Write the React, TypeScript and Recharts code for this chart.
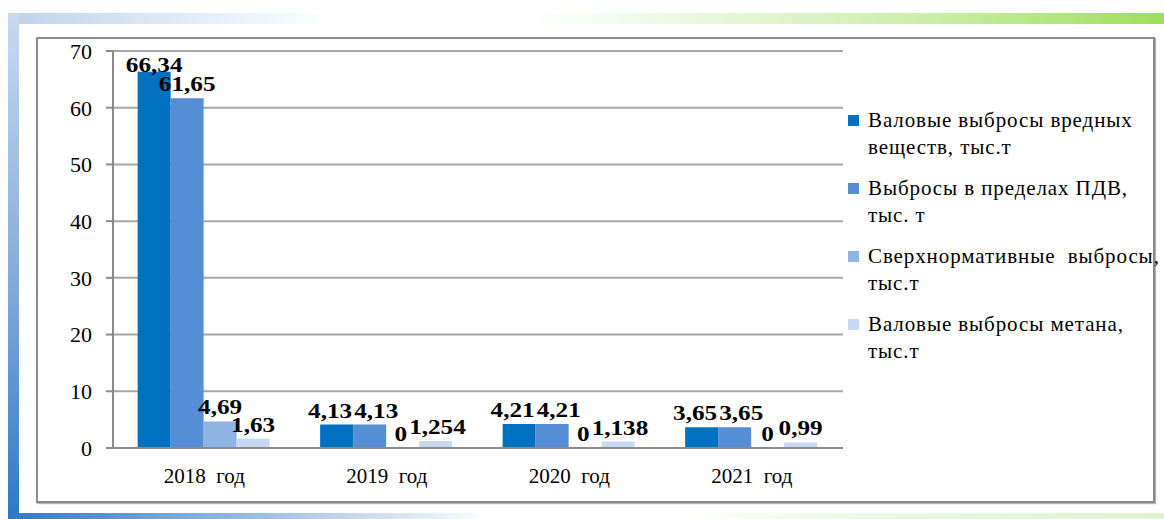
import React from "react"
import { BarChart, Bar, XAxis, YAxis, CartesianGrid, LabelList } from "recharts"

// data
const categories = ["2018\u00a0\u00a0год", "2019\u00a0\u00a0год", "2020\u00a0\u00a0год", "2021\u00a0\u00a0год"]
const grossEmissions = [66.34, 4.13, 4.21, 3.65]
const withinPdv = [61.65, 4.13, 4.21, 3.65]
const excessEmissions = [4.69, 0, 0, 0]
const methaneEmissions = [1.63, 1.254, 1.138, 0.99]
const yTicks = [0, 10, 20, 30, 40, 50, 60, 70]

const seriesNames = [
  "Валовые выбросы вредных\nвеществ, тыс.т",
  "Выбросы в пределах ПДВ,\nтыс. т",
  "Сверхнормативные  выбросы,\nтыс.т",
  "Валовые выбросы метана,\nтыс.т",
]
const seriesKeys = ["gross", "pdv", "excess", "methane"]
const seriesValues = [grossEmissions, withinPdv, excessEmissions, methaneEmissions]
const seriesColors = ["#0070C0", "#558ED5", "#8EB4E3", "#C6D9F1"]

const data = categories.map((name, i) => ({
  name,
  gross: grossEmissions[i],
  pdv: withinPdv[i],
  excess: excessEmissions[i],
  methane: methaneEmissions[i],
}))

const FONT = "Liberation Serif"
const W = 1164
const H = 519
const MARGIN = { top: 51, right: 321, bottom: 30, left: 53 }
const X_AXIS_H = 40
const Y_MAX = 70
const PLOT_BOTTOM = H - MARGIN.bottom - X_AXIS_H - 1
const UNIT = (PLOT_BOTTOM - MARGIN.top) / Y_MAX

const LABEL_SIZE = 21
const LABEL_STRETCH = 1.2
const formatValue = (v: any) => String(v).replace(".", ",")

const labelWidth = (v: number) => {
  const s = formatValue(v)
  let w = 0
  for (const ch of s) w += ch === "," ? 0.25 : 0.5
  return w * LABEL_SIZE * LABEL_STRETCH
}
const labelBaseline = (v: number) => Math.max(PLOT_BOTTOM - v * UNIT - 7, MARGIN.top + LABEL_SIZE)

// push apart labels in one group that would overlap (like the original did)
const labelShifts = (index: number, bw: number) => {
  const shifts = [0, 0, 0, 0]
  for (let k = 1; k < seriesValues.length; k++) {
    const a = seriesValues[k - 1][index]
    const b = seriesValues[k][index]
    if (Math.abs(labelBaseline(a) - labelBaseline(b)) >= 15) continue
    const overlap = labelWidth(a) / 2 + labelWidth(b) / 2 + 2 - (bw + shifts[k] - shifts[k - 1])
    if (overlap > 0) {
      shifts[k - 1] -= overlap / 2
      shifts[k] += overlap / 2
    }
  }
  return shifts
}

const makeLabel = (series: number) => (props: any) => {
  const { x, width, index } = props
  const value = seriesValues[series][index]
  const bw = Number(width)
  const cx = Number(x) + bw / 2 + labelShifts(index, bw)[series]
  const y = labelBaseline(value)
  return (
    <g transform={`translate(${cx},${y}) scale(${LABEL_STRETCH},1)`}>
      <text x={0} y={0} textAnchor="middle" fill="#000" fontSize={LABEL_SIZE} fontWeight="bold" fontFamily={FONT}>
        {formatValue(value)}
      </text>
    </g>
  )
}

export default function App() {
  return (
    <div style={{ position: "absolute", left: 0, top: 0, width: W, height: H, background: "#fff", fontFamily: FONT }}>
      {/* decorative frame strips */}
      <div
        style={{
          position: "absolute", left: 8, top: 13, width: 1156, height: 11,
          background: "linear-gradient(to right, #bcd3ec 0%, #ffffff 28%, #ffffff 45%, #f1faea 55%, #c9eea6 80%, #9ddf5c 100%)",
        }}
      />
      <div
        style={{
          position: "absolute", left: 8, top: 13, width: 11, height: 506,
          background: "linear-gradient(to bottom, #c6daef 0%, #7eaad8 55%, #2f78c4 100%)",
        }}
      />
      <div
        style={{
          position: "absolute", left: 8, top: 513, width: 1156, height: 6,
          background: "linear-gradient(to right, #2f78c4 0%, #9cc0e4 22%, #ffffff 42%, #ffffff 58%, #eaf8df 75%, #def4cb 100%)",
        }}
      />
      <div
        style={{
          position: "absolute", left: 36, top: 37, width: 1115, height: 462,
          border: "2px solid #8a8a8a", boxShadow: "1px 1px 1px #b5b5b5",
        }}
      />

      <div style={{ position: "absolute", left: 0, top: 0 }}>
        <BarChart
          width={W}
          height={H}
          data={data}
          margin={MARGIN}
          barCategoryGap="13.5%"
          barGap={0}
          style={{ fontFamily: FONT }}
        >
          <CartesianGrid vertical={false} stroke="#a6a6a6" strokeWidth={2} />
          <XAxis
            xAxisId="bounds"
            type="number"
            domain={[0, 4]}
            ticks={[0, 1, 2, 3, 4]}
            height={1}
            tick={false}
            axisLine={false}
            tickLine={{ stroke: "#8a8a8a", strokeWidth: 2 }}
            tickSize={7}
          />
          <XAxis
            dataKey="name"
            height={X_AXIS_H}
            tickLine={false}
            tickSize={0}
            tickMargin={20}
            axisLine={{ stroke: "#8a8a8a", strokeWidth: 2 }}
            tick={{ fill: "#000", fontSize: 21, fontFamily: FONT }}
          />
          <YAxis
            width={60}
            domain={[0, Y_MAX]}
            ticks={yTicks}
            interval={0}
            tickSize={7}
            tickMargin={14}
            axisLine={{ stroke: "#8a8a8a", strokeWidth: 2 }}
            tickLine={{ stroke: "#8a8a8a", strokeWidth: 2 }}
            tick={{ fill: "#000", fontSize: 22, fontFamily: FONT }}
          />
          {seriesKeys.map((key, i) => (
            <Bar
              key={key}
              dataKey={key}
              name={seriesNames[i]}
              fill={seriesColors[i]}
              minPointSize={1}
              isAnimationActive={false}
            >
              <LabelList dataKey={key} content={makeLabel(i)} />
            </Bar>
          ))}
        </BarChart>
      </div>

      {/* legend */}
      <div style={{ position: "absolute", left: 848, top: 107, fontFamily: FONT }}>
        {seriesNames.map((name, i) => (
          <div key={name} style={{ display: "flex", alignItems: "flex-start", marginBottom: 14 }}>
            <div style={{ width: 11, height: 11, background: seriesColors[i], marginTop: 8, marginRight: 9, flexShrink: 0 }} />
            <div style={{ whiteSpace: "pre", fontSize: 21, lineHeight: "27px", letterSpacing: 0.9, color: "#000" }}>{name}</div>
          </div>
        ))}
      </div>
    </div>
  )
}
